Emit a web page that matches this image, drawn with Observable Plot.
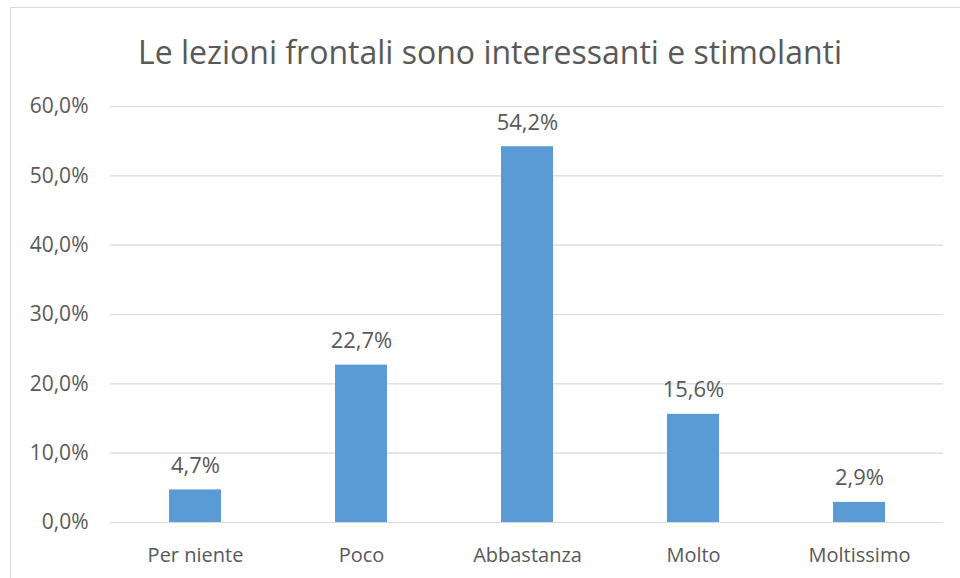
<!DOCTYPE html>
<html>
<head>
<meta charset="utf-8">
<script src="https://cdn.jsdelivr.net/npm/d3@7"></script>
<script src="https://cdn.jsdelivr.net/npm/@observablehq/plot@0.6"></script>
<style>
  html, body { margin: 0; padding: 0; background: #fff; }
  #wrap { position: relative; width: 960px; height: 578px; overflow: hidden; }
  #frame { position: absolute; left: 10px; top: 7px; width: 1000px; height: 1000px;
           border-left: 1.5px solid #d9d9d9; border-top: 1.5px solid #d9d9d9; }
  #title { position: absolute; left: 0; top: 32px; width: 980px; text-align: center; line-height: 40px;
           font-family: "Open Sans", sans-serif; font-size: 32px; color: #595959; }
  #chart { position: absolute; left: 0; top: 0; }
</style>
</head>
<body>
<div id="wrap">
  <div id="frame"></div>
  <div id="chart"></div>
  <div id="title">Le lezioni frontali sono interessanti e stimolanti</div>
</div>
<script>
const categories = ["Per niente", "Poco", "Abbastanza", "Molto", "Moltissimo"];
const values = [0.047, 0.227, 0.542, 0.156, 0.029];
const yTicks = [0, 0.1, 0.2, 0.3, 0.4, 0.5, 0.6];

const itLocale = d3.formatLocale({decimal: ",", thousands: ".", grouping: [3], currency: ["", " €"]});
const fmt = itLocale.format(".1%");

const data = categories.map((c, i) => ({category: c, value: values[i]}));

const chart = Plot.plot({
  width: 960,
  height: 578,
  marginLeft: 110,
  marginRight: 17,
  marginTop: 106,
  marginBottom: 56,
  style: {fontFamily: "'Open Sans', sans-serif", background: "transparent"},
  x: {domain: categories, paddingInner: 0.688, paddingOuter: 0.344, label: null},
  y: {domain: [0, 0.6], label: null},
  marks: [
    Plot.gridY(yTicks, {stroke: "#d9d9d9", strokeOpacity: 1, strokeWidth: 1.2}),
    Plot.axisY(yTicks, {tickSize: 0, tickPadding: 22, tickFormat: fmt, fontSize: 21, fill: "#595959"}),
    Plot.axisX({tickSize: 0, tickPadding: 25, fontSize: 20, fill: "#595959"}),
    Plot.barY(data, {x: "category", y: "value", fill: "#5b9bd5"}),
    Plot.text(data, {x: "category", y: "value", text: d => fmt(d.value), dy: -24, fontSize: 22, fill: "#595959"})
  ]
});
document.getElementById("chart").appendChild(chart);
</script>
</body>
</html>
